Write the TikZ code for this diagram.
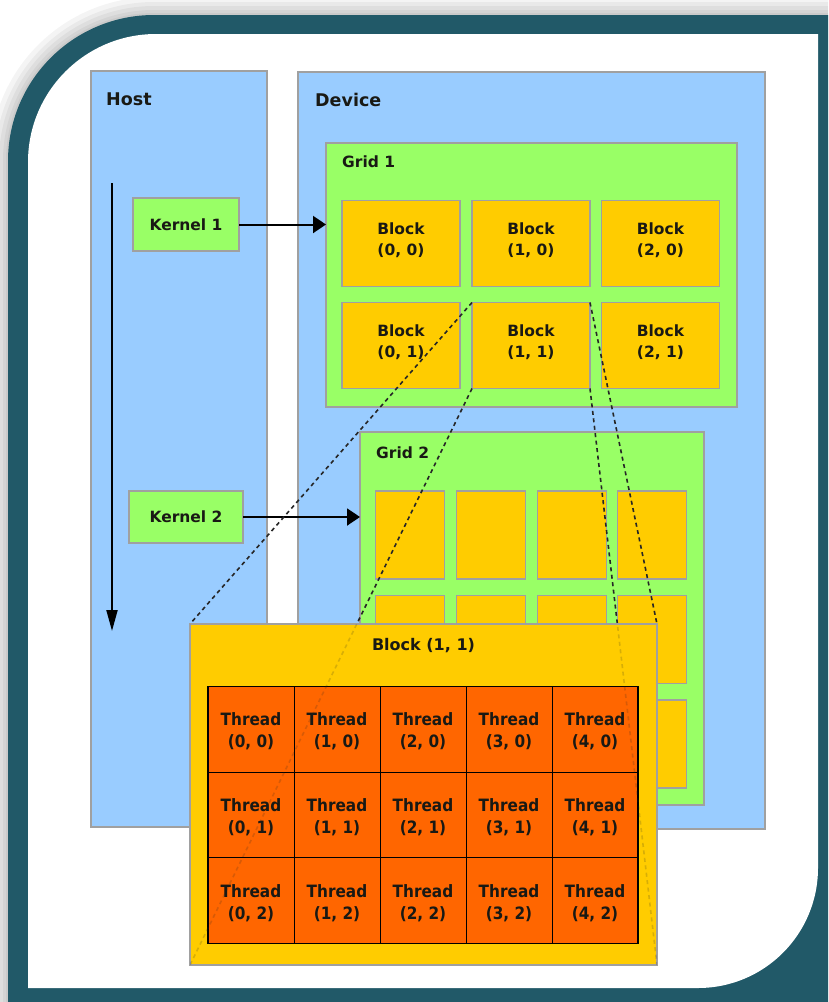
\documentclass[tikz,border=0pt]{standalone}
\usepackage{fontspec}
\setmainfont{DejaVu Sans}
\newfontfamily\condbold{DejaVu Sans Condensed Bold}
\usetikzlibrary{arrows.meta}
\definecolor{frameteal}{RGB}{33,89,104}
\definecolor{hostblue}{RGB}{153,204,255}
\definecolor{kgreen}{RGB}{153,255,102}
\definecolor{blkyellow}{RGB}{255,204,0}
\definecolor{throrange}{RGB}{255,102,0}
\definecolor{edgegray}{RGB}{160,160,160}
\definecolor{txt}{RGB}{25,25,20}
\tikzset{
  box/.style={draw=edgegray, line width=1.3pt, inner sep=0pt, outer sep=0pt, rectangle},
  bluebox/.style={box, fill=hostblue},
  greenbox/.style={box, fill=kgreen},
  yellowbox/.style={box, fill=blkyellow},
  kernelbox/.style={greenbox, text=txt, font=\bfseries\fontsize{15.5}{19}\selectfont},
  gblock/.style={yellowbox, minimum width=118pt, minimum height=86pt, align=center, text=txt,
    font=\bfseries\fontsize{15.5}{21}\selectfont},
  g2block/.style={yellowbox, minimum width=69pt, minimum height=88pt},
  thr/.style={draw=black, line width=1pt, fill=throrange, inner sep=0pt, outer sep=0pt,
    minimum width=86pt, minimum height=85.67pt, text=txt},
  thrtext/.style={inner sep=0pt, align=center, text=txt, font=\condbold\fontsize{17}{22}\selectfont},
  biglbl/.style={text=txt, inner sep=0pt, font=\bfseries\fontsize{17.5}{21}\selectfont},
  lbl/.style={text=txt, inner sep=0pt, font=\bfseries\fontsize{15.5}{19}\selectfont},
  blktext/.style={inner sep=0pt, align=center, text=txt, font=\bfseries\fontsize{15.5}{21}\selectfont},
  flow/.style={line width=2pt, -{Triangle[length=13pt,width=17pt]}},
  zoomline/.style={draw=black!85, line width=1.6pt, dash pattern=on 4pt off 3.5pt}
}
\begin{document}
\begin{tikzpicture}[x=1pt,y=-1pt]
\clip (0,0) rectangle (828,1002);
\fill[white] (0,0) rectangle (828,1002);
% shadow
\foreach \d in {18,13,9,5,2}{
  \fill[black, opacity=0.045] ({8-\d},1010) -- ({8-\d},161)
    .. controls ({8-\d},{161-0.5523*(146+\d)}) and ({154-0.5523*(146+\d)},{15-\d}) .. (154,{15-\d})
    -- (840,{15-\d}) -- (840,1010) -- cycle;
}
% frame
\fill[frameteal] (8,1010) -- (8,161) .. controls (8,80.4) and (73.4,15) .. (154,15)
  -- (840,15) -- (840,1010) -- cycle;
\fill[white] (28,988) -- (28,162) .. controls (28,91.3) and (85.3,34) .. (156,34)
  -- (818,34) -- (818,868) .. controls (818,934.3) and (764.3,988) .. (698,988) -- cycle;

% host and device
\node[bluebox, minimum width=176pt, minimum height=756pt] (host) at (179,449) {};
\node[bluebox, minimum width=467pt, minimum height=757pt] (device) at (531.5,450.5) {};
\node[biglbl, anchor=base west] (hostlbl) at (106,105) {Host};
\node[biglbl, anchor=base west] (devlbl) at (315,106) {Device};

% grid 1
\node[greenbox, minimum width=411pt, minimum height=264pt] (g1) at (531.5,275) {};
\node[lbl, anchor=base west] (g1lbl) at (342,167) {Grid 1};
\foreach \n/\x/\y/\t in {b00/401/243.5/{(0, 0)}, b10/531/243.5/{(1, 0)}, b20/660.5/243.5/{(2, 0)},
                         b01/401/345.5/{(0, 1)}, b11/531/345.5/{(1, 1)}, b21/660.5/345.5/{(2, 1)}}{
  \node[gblock] (\n) at (\x,\y) {};
  \node[blktext] (\n t) at (\x,\y-3) {Block\\\t};
}

% kernels
\node[kernelbox, minimum width=106pt, minimum height=53pt] (k1) at (186,224.5) {Kernel 1};
\node[kernelbox, minimum width=114pt, minimum height=52pt] (k2) at (186,517) {Kernel 2};
\coordinate (tstart) at (112,183);
\coordinate (tend) at (112,631);
\draw[line width=2pt, -{Triangle[length=21pt,width=11pt]}] (tstart) -- (tend);

% grid 2
\node[greenbox, minimum width=344pt, minimum height=373pt] (g2) at (532,618.5) {};
\node[lbl, anchor=base west] (g2lbl) at (376,458) {Grid 2};
\foreach \c/\x in {0/410,1/491,2/572,3/652}{
  \foreach \r/\y in {0/535,1/639.5,2/744}{
    \node[g2block] (gb\c\r) at (\x,\y) {};
  }
}

\draw[flow] (k1.east) -- (k1.east -| g1.west);
\draw[flow] (k2.east) -- (k2.east -| g2.west);

% big block
\node[yellowbox, minimum width=467pt, minimum height=341pt] (big) at (423.5,794.5) {};
% zoom lines
\draw[zoomline] (b11.north west) -- (big.north west);
\draw[zoomline] (b11.south west) -- (big.south west);
\draw[zoomline] (b11.north east) -- (big.north east);
\draw[zoomline] (b11.south east) -- (big.south east);
% redraw big block over lines
\node[yellowbox, minimum width=467pt, minimum height=341pt] (bigfront) at (423.5,794.5) {};
\node[lbl, anchor=base, font=\bfseries\fontsize{16}{19}\selectfont] (biglbl) at (423.5,650) {Block (1, 1)};

\foreach \c/\x in {0/251,1/337,2/423,3/509,4/595}{
  \foreach \r/\y in {0/729.5,1/815.2,2/900.8}{
    \node[thr] (t\c\r) at (\x,\y) {};
    \node[thrtext] (t\c\r t) at (\x,\y+2) {Thread\\(\c, \r)};
  }
}
\draw[line width=1.6pt] (t00.north west) rectangle (t42.south east);

% faint lines seen through the block
\begin{scope}
\clip (bigfront.north west) rectangle (bigfront.south east);
\draw[zoomline, opacity=0.18] (b11.north west) -- (big.north west);
\draw[zoomline, opacity=0.18] (b11.south west) -- (big.south west);
\draw[zoomline, opacity=0.18] (b11.north east) -- (big.north east);
\draw[zoomline, opacity=0.18] (b11.south east) -- (big.south east);
\end{scope}
\end{tikzpicture}
\end{document}
